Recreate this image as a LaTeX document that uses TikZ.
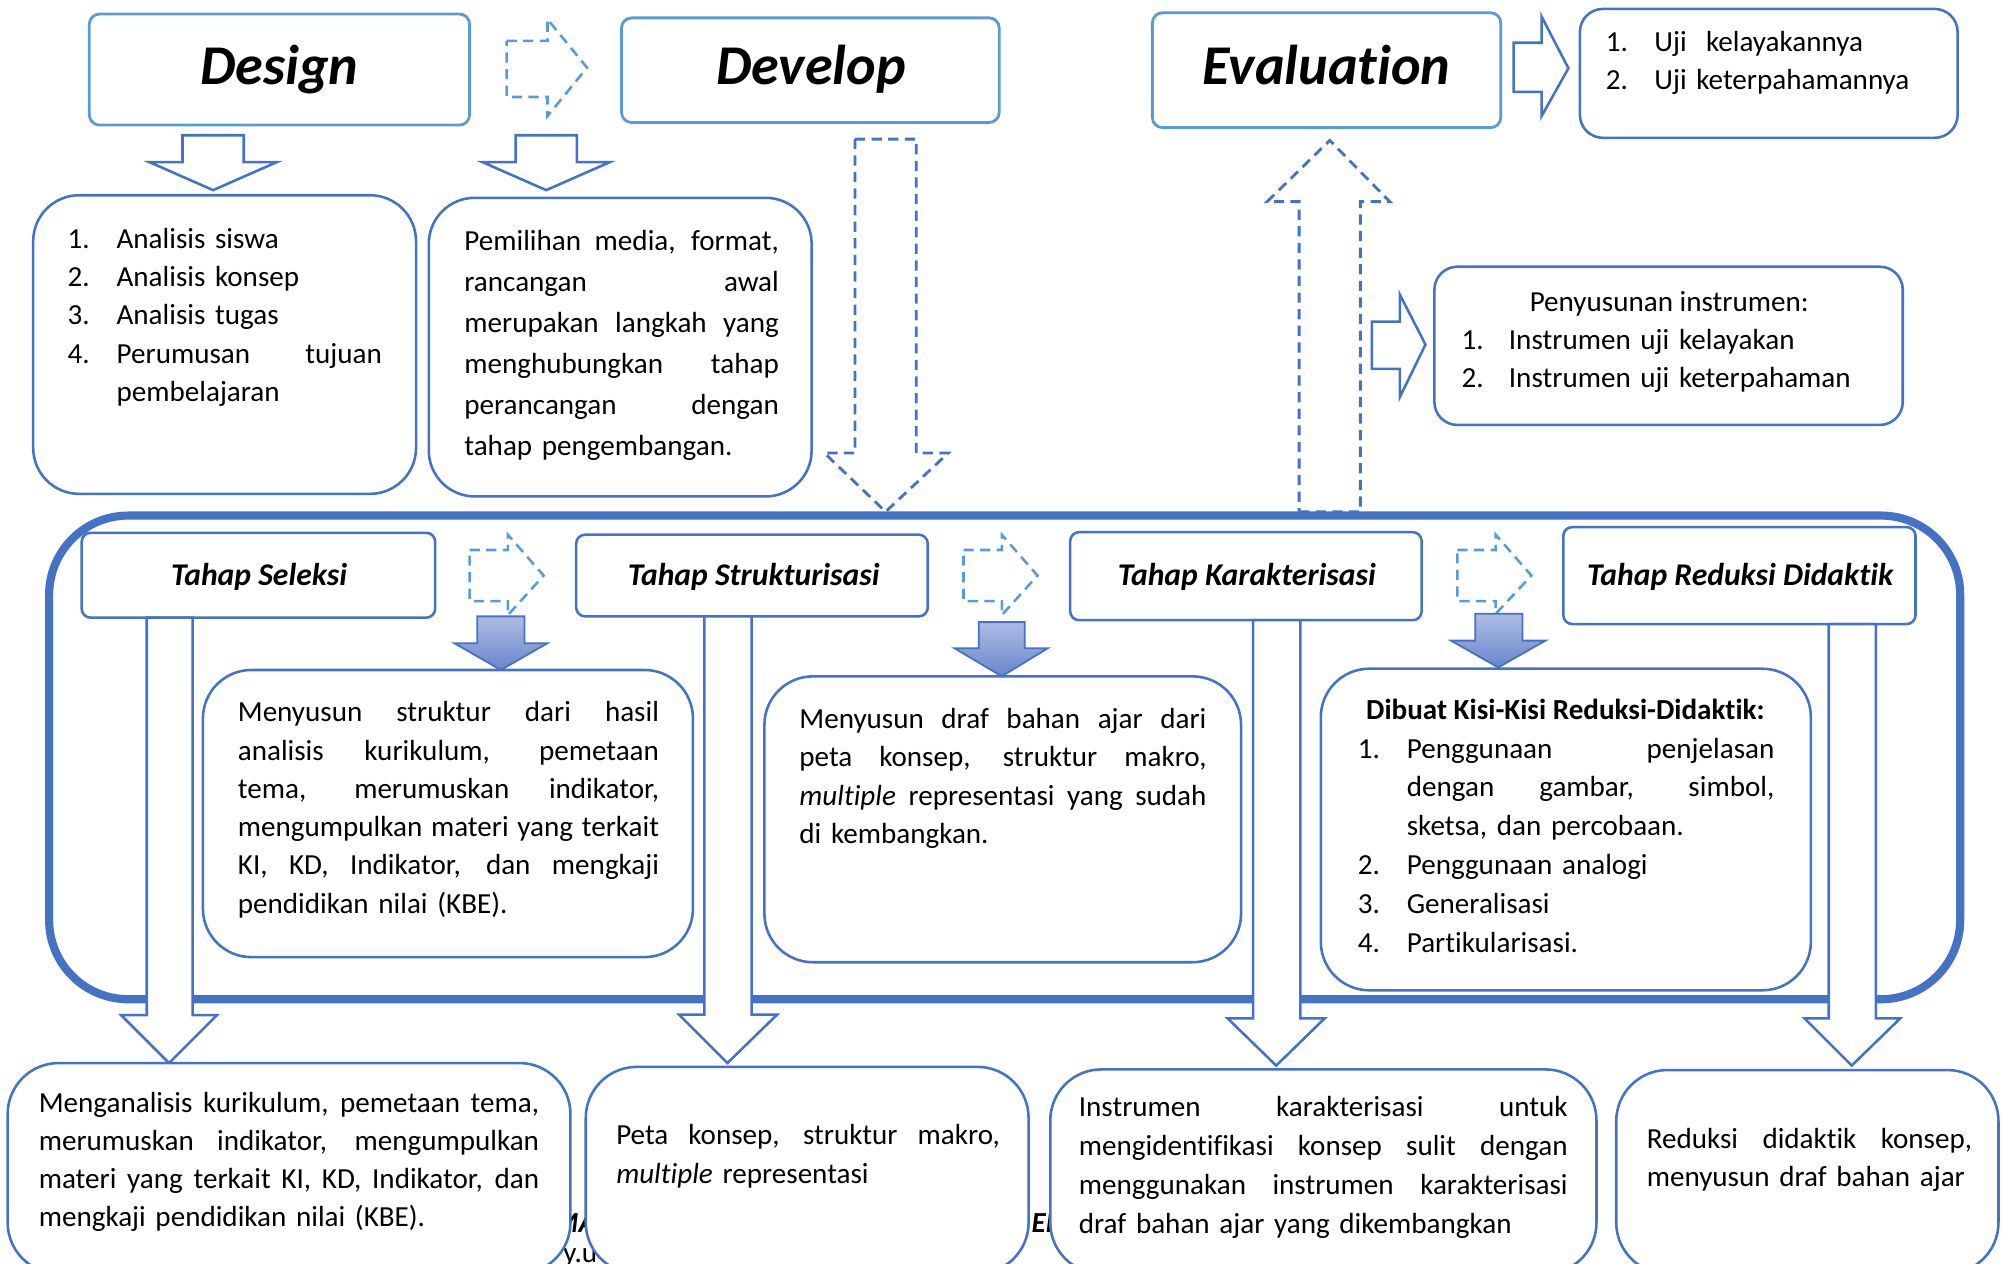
\documentclass[tikz,border=0pt]{standalone}
\usepackage{fontspec}
\setmainfont{Carlito}[Ligatures=NoCommon]
\usetikzlibrary{fit}
\definecolor{accblue}{HTML}{4472C4}
\definecolor{ltblue}{HTML}{5B9BD5}
\definecolor{gradtop}{RGB}{174,188,228}
\definecolor{gradbot}{RGB}{104,134,204}
\newcommand{\J}[2]{{\spaceskip=0pt\xspaceskip=0pt\makebox[#1][s]{#2}}}
% down/up block arrow: style, body-left, body-right, body-end, shoulder, head-left, head-right, tip-x, tip-y
\newcommand{\DArrow}[9][]{\draw[#1] (#2,#4) -- (#3,#4) -- (#3,#5) -- (#7,#5) -- (#8,#9) -- (#6,#5) -- (#2,#5) -- cycle;}
% right block arrow: style, left, head-base, body-top, body-bottom, head-top, head-bottom, tip-x, tip-y
\newcommand{\RArrow}[9][]{\draw[#1] (#2,#4) -- (#3,#4) -- (#3,#6) -- (#8,#9) -- (#3,#7) -- (#3,#5) -- (#2,#5) -- cycle;}
\begin{document}
\begin{tikzpicture}[x=0.5pt,y=-0.5pt,
  topbox/.style={draw=ltblue, line width=1.1pt, rounded corners=4pt, fill=white, inner sep=0pt},
  bluebox/.style={draw=accblue, line width=1pt, fill=white, inner sep=0pt},
  heading/.style={font=\fontsize{22}{26}\selectfont\bfseries\itshape, inner sep=0pt, anchor=base},
  tahapt/.style={font=\fontsize{12.4}{15}\selectfont\bfseries\itshape, inner sep=0pt, anchor=base},
  body/.style={font=\fontsize{11.4}{15}\selectfont, inner sep=0pt, anchor=base west},
  blockarrow/.style={draw=accblue, line width=1pt, fill=white, line join=miter},
  dasharrow/.style={draw=ltblue, line width=1pt, dash pattern=on 4pt off 2.5pt},
  dasharrowdk/.style={draw=accblue, line width=1.1pt, dash pattern=on 4pt off 2.5pt},
  gradarrow/.style={draw=accblue, line width=0.7pt, top color=gradtop, bottom color=gradbot},
]
\useasboundingbox (0,0) rectangle (1568,990);
\clip (0,0) rectangle (1568,990);
\fill[white] (0,0) rectangle (1568,990);

% ---------- top row ----------
\node[topbox, fit={(70,11) (368,98)}] (design) {};
\node[heading] (designt) at (219,66.6) {Design};
\node[topbox, fit={(487,14) (783,96)}] (develop) {};
\node[heading] (developt) at (635.6,66.6) {Develop};
\node[topbox, fit={(903,10) (1176,100)}] (evaluation) {};
\node[heading] (evaluationt) at (1039.5,66.6) {Evaluation};
\node[bluebox, rounded corners=9pt, fit={(1238,7) (1534,108)}] (uji) {};
\node[body, text width=130pt] (ujit) at (1258,40.5) {\makebox[19pt][l]{1.}Uji~ kelayakannya\\\makebox[19pt][l]{2.}Uji keterpahamannya};

\RArrow[dasharrow]{397}{429}{32}{76}{15}{91}{460}{53}
\RArrow[blockarrow]{1186}{1208}{33.5}{72}{13}{91}{1229}{53.5}

\DArrow[blockarrow]{143}{191}{106}{127}{117}{217}{167}{149}
\DArrow[blockarrow]{404}{452}{106}{127}{378}{478}{428}{149}

\node[bluebox, rounded corners=18pt, fit={(26,153) (326,387)}] (dlist) {};
\node[body, text width=123.25pt] (dlistt) at (52.5,194.6) {%
\makebox[19.25pt][l]{1.}Analisis siswa\\
\makebox[19.25pt][l]{2.}Analisis konsep\\
\makebox[19.25pt][l]{3.}Analisis tugas\\
\makebox[19.25pt][l]{4.}\J{103.9pt}{Perumusan tujuan}\\
\hspace*{19.25pt}pembelajaran};

\node[bluebox, rounded corners=18pt, fit={(336,155) (636,389)}] (pemilihan) {};
\node[body, text width=123.5pt, font=\fontsize{11.4}{16.1}\selectfont] (pemilihant) at (363.5,196) {%
\J{123.2pt}{Pemilihan media, format,}\\
\J{123.2pt}{rancangan awal}\\
\J{123.2pt}{merupakan langkah yang}\\
\J{123.2pt}{menghubungkan tahap}\\
\J{123.2pt}{perancangan dengan}\\
tahap pengembangan.};

\DArrow[dasharrowdk]{670}{718}{109}{355}{646}{743}{694}{401}
\DArrow[dasharrowdk]{1018}{1066}{401}{158}{993}{1089}{1042}{110}

\RArrow[blockarrow]{1075}{1097}{252}{289}{231}{311}{1117}{270}
\node[bluebox, rounded corners=9pt, fit={(1124,209) (1491,333)}] (penyusunan) {};
\node[body, anchor=base] (penyusunanh) at (1308,244.4) {Penyusunan instrumen:};
\node[body, text width=160pt] (penyusunant) at (1145,274) {\makebox[18.5pt][l]{1.}Instrumen uji kelayakan\\\makebox[18.5pt][l]{2.}Instrumen uji keterpahaman};

% ---------- container ----------
\node[draw=accblue, line width=3.2pt, rounded corners=31pt, inner sep=0pt, fit={(38.5,404) (1536,783)}] (container) {};

\node[bluebox, rounded corners=3.5pt, fit={(64,417.5) (341,484)}] (seleksi) {};
\node[tahapt] (seleksit) at (203,458.5) {Tahap Seleksi};
\node[bluebox, rounded corners=3.5pt, fit={(451.5,419) (727,483)}] (struktur) {};
\node[tahapt] (strukturt) at (590.6,458.5) {Tahap Strukturisasi};
\node[bluebox, rounded corners=3.5pt, fit={(838.6,417) (1114,486)}] (karakter) {};
\node[tahapt] (karaktert) at (977,458.5) {Tahap Karakterisasi};
\node[bluebox, rounded corners=3.5pt, fit={(1225,413) (1501,489)}] (reduksi) {};
\node[tahapt] (reduksit) at (1363.6,458.5) {Tahap Reduksi Didaktik};

% long arrows down
\DArrow[blockarrow]{115}{151}{484}{795.5}{95}{170}{132.5}{833}
\DArrow[blockarrow]{552}{589}{483}{795}{532}{609}{570}{833}
\DArrow[blockarrow]{982}{1019}{486}{798}{962}{1038}{1000}{835}
\DArrow[blockarrow]{1433}{1470}{489}{798}{1414}{1489}{1451}{835}

% dashed right arrows between stages
\RArrow[dasharrow]{368}{398}{431}{471}{419}{482}{426}{451}
\RArrow[dasharrow]{755}{785}{431}{471}{419}{482}{813}{451}
\RArrow[dasharrow]{1142}{1172}{431}{471}{419}{481}{1200}{451}

% content boxes
\node[bluebox, rounded corners=19pt, fit={(159,525) (543,750)}] (sbox) {};
\node[body, text width=165pt] (sboxt) at (186,565.6) {%
\J{165pt}{Menyusun struktur dari hasil}\\
\J{165pt}{analisis kurikulum, pemetaan}\\
\J{165pt}{tema, merumuskan indikator,}\\
\J{165pt}{mengumpulkan materi yang terkait}\\
\J{165pt}{KI, KD, Indikator, dan mengkaji}\\
pendidikan nilai (KBE).};

\node[bluebox, rounded corners=19pt, fit={(599,530) (972.5,754)}] (dbox) {};
\node[body, text width=159.5pt] (dboxt) at (626,571) {%
\J{159.5pt}{Menyusun draf bahan ajar dari}\\
\J{159.5pt}{peta konsep, struktur makro,}\\
\J{159.5pt}{\textit{multiple} representasi yang sudah}\\
di kembangkan.};

\node[bluebox, rounded corners=19pt, fit={(1035,524) (1419,776)}] (kbox) {};
\node[body, anchor=base, font=\fontsize{11.4}{15}\selectfont\bfseries] (kboxh) at (1226.6,564) {Dibuat Kisi-Kisi Reduksi-Didaktik:};
\node[body, text width=163.2pt, font=\fontsize{11.4}{15.2}\selectfont] (kboxt) at (1063.6,594) {%
\makebox[19.2pt][l]{1.}\J{144pt}{Penggunaan penjelasan}\\
\hspace*{19.2pt}\J{144pt}{dengan gambar, simbol,}\\
\hspace*{19.2pt}sketsa, dan percobaan.\\
\makebox[19.2pt][l]{2.}Penggunaan analogi\\
\makebox[19.2pt][l]{3.}Generalisasi\\
\makebox[19.2pt][l]{4.}Partikularisasi.};

% gradient arrows
\DArrow[gradarrow]{374}{411}{483}{504}{356}{429}{392.5}{525}
\DArrow[gradarrow]{767}{803}{487.5}{508}{748}{821}{785}{530}
\DArrow[gradarrow]{1156}{1193}{481}{502}{1137}{1211}{1174}{523}

% ---------- bottom row ----------
\node[body, font=\fontsize{11.4}{15}\selectfont\bfseries\itshape] (fragA) at (433,966) {MA};
\node[body] (fragB) at (441,989) {y.u};
\node[body, font=\fontsize{11.4}{15}\selectfont\bfseries\itshape] (fragC) at (808,966) {ED};

\node[bluebox, rounded corners=20pt, fit={(6,833) (447,998)}] (b1) {};
\node[body, text width=196pt] (b1t) at (30,871.4) {%
\J{196pt}{Menganalisis kurikulum, pemetaan tema,}\\
\J{196pt}{merumuskan indikator, mengumpulkan}\\
\J{196pt}{materi yang terkait KI, KD, Indikator, dan}\\
mengkaji pendidikan nilai (KBE).};

\node[bluebox, rounded corners=20pt, fit={(459,836) (806,998)}] (b2) {};
\node[body, text width=150.25pt] (b2t) at (482.5,897) {%
\J{150.25pt}{Peta konsep, struktur makro,}\\
\textit{multiple} representasi};

\node[bluebox, rounded corners=20pt, fit={(823,838) (1251,998)}] (b3) {};
\node[body, text width=191.5pt, font=\fontsize{11.4}{15.2}\selectfont] (b3t) at (845,875) {%
\J{191.5pt}{Instrumen karakterisasi untuk}\\
\J{191.5pt}{mengidentifikasi konsep sulit dengan}\\
\J{191.5pt}{menggunakan instrumen karakterisasi}\\
draf bahan ajar yang dikembangkan};

\node[bluebox, rounded corners=20pt, fit={(1266.5,838.5) (1566,998)}] (b4) {};
\node[body, text width=127.5pt] (b4t) at (1290,900) {%
\J{127.5pt}{Reduksi didaktik konsep,}\\
menyusun draf bahan ajar};
\end{tikzpicture}
\end{document}
